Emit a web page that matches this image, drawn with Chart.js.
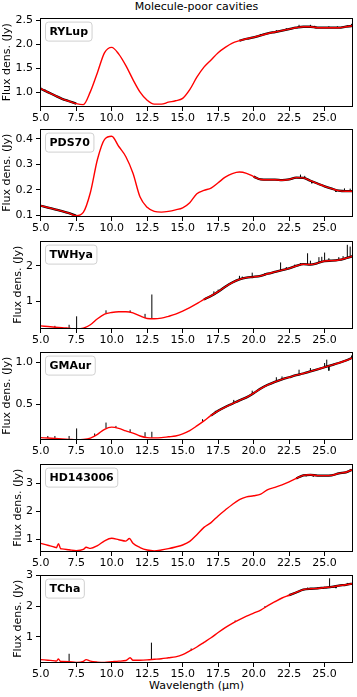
<!DOCTYPE html>
<html><head><meta charset="utf-8">
<script src="https://cdn.jsdelivr.net/npm/chart.js@4"></script>
<style>
html,body{margin:0;padding:0;background:#fff;}
body{width:357px;height:697px;position:relative;overflow:hidden;font-family:"DejaVu Sans",sans-serif;}
canvas{position:absolute;left:0;}
.txt{position:absolute;left:40px;width:313px;text-align:center;font-size:11px;line-height:13px;color:#000;white-space:nowrap;}
</style></head>
<body>
<div class="txt" style="top:0px;">Molecule-poor cavities</div>
<div class="txt" style="top:679px;">Wavelength (μm)</div>
<script>
// ---------- DATA ----------
const wavelength = [5.0,5.5,6.0,6.5,7.0,7.5,8.0,8.5,9.0,9.5,10.0,10.5,11.0,11.5,12.0,12.5,13.0,13.5,14.0,14.5,15.0,15.5,16.0,16.5,17.0,17.5,18.0,18.5,19.0,19.5,20.0,20.5,21.0,21.5,22.0,22.5,23.0,23.5,24.0,24.5,25.0,25.5,26.0,26.5,27.0];
const xTicks = [5.0,7.5,10.0,12.5,15.0,17.5,20.0,22.5,25.0];
const panelNames = ['RYLup','PDS70','TWHya','GMAur','HD143006','TCha'];

const fluxRYLup = [1.08,1.01,0.94,0.87,0.82,0.77,0.75,1.02,1.42,1.83,1.94,1.80,1.56,1.27,1.01,0.84,0.76,0.76,0.80,0.83,0.88,1.06,1.32,1.53,1.68,1.83,1.94,2.03,2.08,2.12,2.15,2.19,2.23,2.26,2.29,2.32,2.35,2.37,2.37,2.35,2.35,2.35,2.35,2.37,2.39];
const fluxPDS70 = [0.138,0.131,0.124,0.117,0.109,0.099,0.112,0.19,0.32,0.398,0.41,0.37,0.33,0.265,0.172,0.132,0.116,0.113,0.116,0.122,0.13,0.15,0.185,0.198,0.207,0.228,0.25,0.264,0.27,0.265,0.252,0.241,0.24,0.24,0.238,0.241,0.248,0.247,0.236,0.225,0.214,0.205,0.197,0.195,0.195];
const fluxTWHya = [0.30,0.28,0.26,0.25,0.23,0.21,0.23,0.33,0.50,0.63,0.68,0.70,0.70,0.67,0.58,0.51,0.50,0.52,0.57,0.63,0.72,0.82,0.93,1.05,1.15,1.27,1.41,1.53,1.62,1.67,1.69,1.72,1.78,1.83,1.88,1.93,2.00,2.05,2.04,2.08,2.14,2.15,2.17,2.22,2.28];
const fluxGMAur = [0.10,0.095,0.09,0.085,0.08,0.075,0.078,0.095,0.14,0.20,0.225,0.21,0.18,0.155,0.12,0.10,0.097,0.10,0.11,0.12,0.145,0.185,0.24,0.30,0.365,0.42,0.465,0.505,0.545,0.58,0.63,0.685,0.73,0.765,0.795,0.82,0.845,0.865,0.89,0.915,0.94,0.965,0.99,1.02,1.055];
const fluxHD143006 = [0.86,0.79,0.72,0.66,0.63,0.60,0.64,0.68,0.78,0.95,1.04,0.99,0.94,0.86,0.71,0.62,0.59,0.62,0.67,0.73,0.80,0.93,1.17,1.43,1.60,1.84,2.05,2.25,2.42,2.52,2.56,2.62,2.78,2.86,2.95,3.06,3.18,3.29,3.31,3.28,3.28,3.29,3.36,3.40,3.50];
const fluxTCha = [0.26,0.24,0.22,0.20,0.19,0.17,0.20,0.21,0.18,0.17,0.19,0.21,0.23,0.24,0.24,0.25,0.27,0.29,0.32,0.35,0.42,0.54,0.67,0.82,0.97,1.14,1.30,1.44,1.56,1.67,1.77,1.87,2.01,2.14,2.26,2.35,2.44,2.53,2.56,2.57,2.60,2.62,2.66,2.69,2.73];

// narrow emission features in the model: [wavelength, flux]
const featuresHD143006 = [[6.1,0.70],[6.25,0.85],[6.4,0.67],[8.2,0.72],[11.25,1.03]];
const featuresTCha = [[6.1,0.21],[6.25,0.28],[6.4,0.20],[8.2,0.26],[11.3,0.32]];

// observed spectrum spikes: [wavelength, base, peak]
const spikesRYLup = [[5.0,1.08,1.12],[5.3,1.05,1.07],[20.5,2.19,2.22],[21.6,2.27,2.30],[22.3,2.31,2.34],[23.2,2.36,2.41],[24.0,2.37,2.41],[24.3,2.36,2.39],[25.3,2.35,2.38],[25.9,2.35,2.38],[26.6,2.37,2.40],[26.9,2.39,2.43]];
const spikesPDS70 = [[23.3,0.249,0.26],[23.6,0.245,0.255],[24.1,0.235,0.226],[25.8,0.199,0.192],[26.4,0.195,0.206],[26.8,0.195,0.205]];
const spikesTWHya = [[6.0,0.26,0.30],[7.0,0.23,0.33],[7.53,0.21,0.57],[9.6,0.65,0.74],[11.3,0.68,0.74],[12.35,0.52,0.64],[12.83,0.50,1.19],[17.2,1.17,1.28],[17.5,1.27,1.33],[19.0,1.62,1.72],[19.2,1.64,1.70],[19.9,1.69,1.81],[20.8,1.76,1.80],[21.9,1.87,2.10],[22.3,1.90,1.97],[22.9,1.98,2.04],[23.3,2.02,2.08],[23.8,2.05,2.36],[24.0,2.04,2.15],[24.6,2.09,2.25],[24.8,2.12,2.26],[25.0,2.14,2.38],[25.3,2.15,2.22],[26.0,2.17,2.25],[26.3,2.20,2.28],[26.6,2.23,2.60],[26.8,2.25,2.55]];
const spikesGMAur = [[5.5,0.095,0.12],[6.0,0.09,0.12],[7.0,0.08,0.12],[7.53,0.075,0.21],[8.8,0.12,0.15],[9.6,0.21,0.28],[10.3,0.22,0.24],[11.3,0.16,0.20],[12.35,0.11,0.165],[12.83,0.098,0.17],[16.4,0.29,0.32],[17.3,0.39,0.42],[18.6,0.51,0.55],[19.9,0.62,0.66],[21.6,0.775,0.82],[22.0,0.79,0.83],[23.2,0.85,0.91],[24.0,0.89,0.93],[25.0,0.94,0.99],[25.15,0.945,1.03],[25.3,0.95,0.90],[26.9,1.05,1.08]];
const spikesHD143006 = [[23.7,3.30,3.26],[24.2,3.30,3.25],[25.6,3.30,3.34],[26.2,3.37,3.41],[26.8,3.45,3.52]];
const spikesTCha = [[7.0,0.19,0.45],[12.8,0.26,0.81],[15.6,0.56,0.62],[18.7,1.48,1.53],[20.8,1.95,2.00],[23.8,2.55,2.60],[24.5,2.57,2.60],[25.35,2.61,2.90],[25.8,2.64,2.58],[26.6,2.70,2.75]];

// noisy wavelength ranges where the observed spectrum shows around the model
const noiseRYLup = [[5.0,7.5],[19.0,27.0]];
const noisePDS70 = [[5.0,7.5],[20.0,27.0]];
const noiseTWHya = [[16.5,27.0]];
const noiseGMAur = [[17.0,27.0]];
const noiseHD143006 = [[23.0,27.0]];
const noiseTCha = [[22.5,27.0]];

// y tick labels
const yTicksRYLup = [1.0,1.5,2.0,2.5];
const yTicksPDS70 = [0.1,0.2,0.3,0.4];
const yTicksTWHya = [1,2];
const yTicksGMAur = [0.5,1.0];
const yTicksHD143006 = [1,2,3];
const yTicksTCha = [1,2,3];

// ---------- LAYOUT ----------
const panels = [
  {flux:fluxRYLup, feat:[], spikes:spikesRYLup, noise:noiseRYLup, yTicks:yTicksRYLup, dec:1, yMin:0.70, yMax:2.56, top:14, bottom:107},
  {flux:fluxPDS70, feat:[], spikes:spikesPDS70, noise:noisePDS70, yTicks:yTicksPDS70, dec:1, yMin:0.094, yMax:0.44, top:125, bottom:217},
  {flux:fluxTWHya, feat:[], spikes:spikesTWHya, noise:noiseTWHya, yTicks:yTicksTWHya, dec:0, yMin:0.21, yMax:2.72, top:237, bottom:329},
  {flux:fluxGMAur, feat:[], spikes:spikesGMAur, noise:noiseGMAur, yTicks:yTicksGMAur, dec:1, yMin:0.072, yMax:1.126, top:348, bottom:440},
  {flux:fluxHD143006, feat:featuresHD143006, spikes:spikesHD143006, noise:noiseHD143006, yTicks:yTicksHD143006, dec:0, yMin:0.55, yMax:3.71, top:460, bottom:552},
  {flux:fluxTCha, feat:featuresTCha, spikes:spikesTCha, noise:noiseTCha, yTicks:yTicksTCha, dec:0, yMin:0.15, yMax:3.02, top:571, bottom:663}
];
const PADTOP = 6, XAXH = 22, YAXW = 40, FONT = '"DejaVu Sans"';

Chart.defaults.font.family = FONT;
Chart.defaults.font.size = 11;
Chart.defaults.color = '#000';

const framePlugin = {
  id:'frame',
  afterDraw(chart, args, opts){
    const {ctx, chartArea:a} = chart;
    ctx.save();
    ctx.strokeStyle = '#000'; ctx.lineWidth = 1;
    ctx.strokeRect(Math.round(a.left)+0.5, Math.round(a.top)+0.5, Math.round(a.right-a.left)-1, Math.round(a.bottom-a.top)-1);
    ctx.font = 'bold 11px ' + FONT;
    const tw = ctx.measureText(opts.name).width;
    const bx = a.left + 5.5, by = a.top + 4.5, bw = tw + 8, bh = 19, r = 3;
    ctx.beginPath();
    ctx.moveTo(bx+r,by); ctx.lineTo(bx+bw-r,by); ctx.quadraticCurveTo(bx+bw,by,bx+bw,by+r);
    ctx.lineTo(bx+bw,by+bh-r); ctx.quadraticCurveTo(bx+bw,by+bh,bx+bw-r,by+bh);
    ctx.lineTo(bx+r,by+bh); ctx.quadraticCurveTo(bx,by+bh,bx,by+bh-r);
    ctx.lineTo(bx,by+r); ctx.quadraticCurveTo(bx,by,bx+r,by); ctx.closePath();
    ctx.fillStyle = 'rgba(255,255,255,0.85)'; ctx.fill();
    ctx.strokeStyle = '#d0d0d0'; ctx.stroke();
    ctx.fillStyle = '#000'; ctx.textBaseline = 'middle'; ctx.textAlign = 'left';
    ctx.fillText(opts.name, bx + 4, by + bh/2 + 0.5);
    ctx.font = '11px ' + FONT;
    let mw = 0;
    opts.labels.forEach(l => { mw = Math.max(mw, ctx.measureText(l).width); });
    const tx = a.left - 4 - 3 - mw - 3 - 5;
    ctx.translate(tx, (a.top + a.bottom)/2);
    ctx.rotate(-Math.PI/2);
    ctx.textAlign = 'center'; ctx.textBaseline = 'middle';
    ctx.fillText('Flux dens. (Jy)', 0, 0);
    ctx.restore();
  }
};

panels.forEach((p, i) => {
  const cv = document.createElement('canvas');
  const h = p.bottom - p.top + PADTOP + XAXH;
  cv.width = 357; cv.height = h;
  cv.style.width = '357px'; cv.style.height = h + 'px';
  cv.style.top = (p.top - PADTOP) + 'px';
  document.body.appendChild(cv);

  const model = wavelength.map((w, k) => ({x:w, y:p.flux[k]}))
    .concat(p.feat.map(f => ({x:f[0], y:f[1]})))
    .sort((a, b) => a.x - b.x);
  const under = [];
  p.noise.forEach(rg => {
    model.filter(pt => pt.x >= rg[0] && pt.x <= rg[1]).forEach(pt => under.push(pt));
    under.push({x:rg[1] + 0.01, y:null});
  });
  const spk = [];
  p.spikes.forEach(s => { spk.push({x:s[0], y:s[1]}, {x:s[0], y:s[2]}, {x:s[0], y:null}); });
  const labels = p.yTicks.map(v => v.toFixed(p.dec));

  new Chart(cv, {
    type:'line',
    data:{datasets:[
      {data:model, order:0, borderColor:'#ff0000', borderWidth:1.4, pointRadius:0, cubicInterpolationMode:'monotone'},
      {data:spk, order:1, borderColor:'#000', borderWidth:1, pointRadius:0, tension:0, spanGaps:false},
      {data:under, order:2, borderColor:'#000', borderWidth:2.3, pointRadius:0, cubicInterpolationMode:'monotone', spanGaps:false}
    ]},
    options:{
      responsive:false, animation:false, devicePixelRatio:1,
      layout:{padding:{top:PADTOP, right:4, left:0, bottom:0}},
      plugins:{legend:{display:false}, tooltip:{enabled:false}, frame:{name:panelNames[i], labels:labels}},
      scales:{
        x:{type:'linear', min:4.95, max:27.0,
           afterBuildTicks:s => { s.ticks = xTicks.map(v => ({value:v})); },
           afterFit:s => { s.height = XAXH; },
           grid:{drawOnChartArea:false, drawTicks:true, tickLength:4, color:'#000', lineWidth:1},
           border:{display:false},
           ticks:{padding:1, maxRotation:0, autoSkip:false, callback:v => Number(v).toFixed(1)}},
        y:{type:'linear', min:p.yMin, max:p.yMax,
           afterBuildTicks:s => { s.ticks = p.yTicks.map(v => ({value:v})); },
           afterFit:s => { s.width = YAXW; },
           grid:{drawOnChartArea:false, drawTicks:true, tickLength:4, color:'#000', lineWidth:1},
           border:{display:false},
           ticks:{padding:3, autoSkip:false, callback:v => Number(v).toFixed(p.dec)}}
      }
    },
    plugins:[framePlugin]
  });
});
</script>
</body></html>
